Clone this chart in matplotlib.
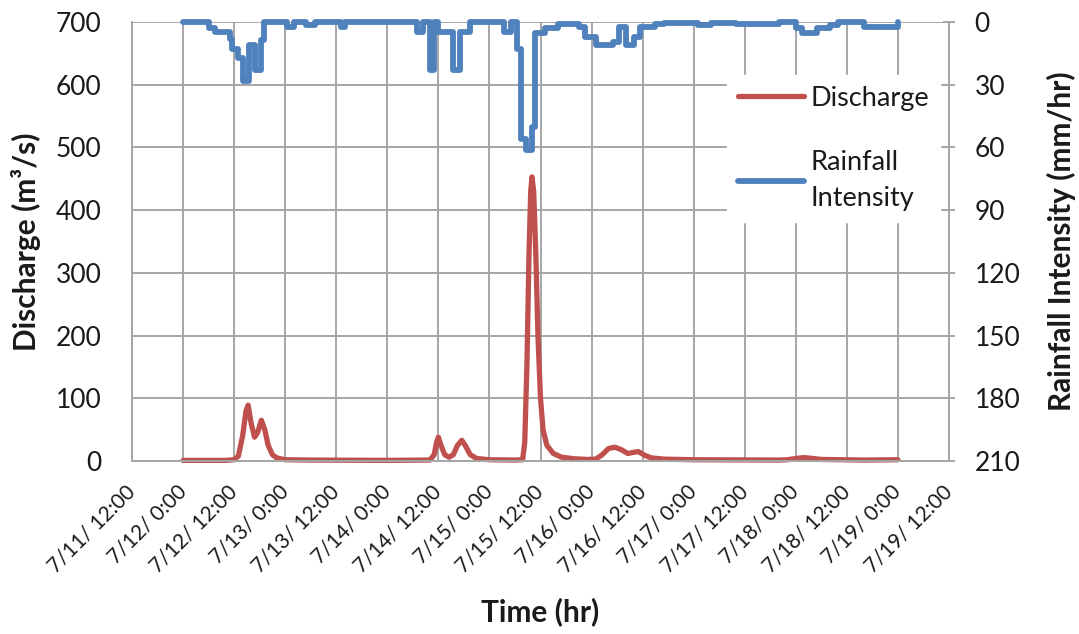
import matplotlib
matplotlib.use("Agg")
import matplotlib.pyplot as plt

plt.rcParams['font.family'] = ['Lato', 'DejaVu Sans']

# Hours since 7/12 0:00
tick_hours = [-12, 0, 12, 24, 36, 48, 60, 72, 84, 96, 108, 120, 132, 144, 156, 168, 180]
tick_labels = ["7/11/ 12:00", "7/12/ 0:00", "7/12/ 12:00", "7/13/ 0:00", "7/13/ 12:00",
               "7/14/ 0:00", "7/14/ 12:00", "7/15/ 0:00", "7/15/ 12:00", "7/16/ 0:00",
               "7/16/ 12:00", "7/17/ 0:00", "7/17/ 12:00", "7/18/ 0:00", "7/18/ 12:00",
               "7/19/ 0:00", "7/19/ 12:00"]

# Discharge (m3/s)
q_hours = [0, 10, 12, 13, 14, 14.8, 15.3, 16, 16.8, 17.5, 18.4, 19.2, 20, 21, 22, 24,
           30, 48, 58, 59, 59.6, 60, 60.6, 61.5, 62.5, 63.5, 64.5, 65.5, 66.3, 67.5, 69, 72,
           78, 79.8, 80.3, 80.8, 81.3, 81.7, 82, 82.4, 82.9, 83.4, 84, 84.6, 85.5, 87, 89,
           92, 95, 97, 98.5, 100, 101.5, 103, 104.5, 106, 107, 108.5, 110, 113, 120,
           140, 142, 144, 146, 148, 150, 160, 168]
discharge = [1, 1, 2, 8, 40, 80, 89, 60, 38, 45, 65, 50, 25, 10, 5, 2,
             1.5, 1, 1.5, 10, 30, 38, 25, 10, 6, 10, 25, 33, 25, 10, 4, 2,
             1.5, 2, 30, 150, 330, 430, 453, 430, 330, 200, 100, 50, 25, 12, 6,
             3.5, 2.5, 3, 10, 20, 22, 18, 12, 14, 15, 9, 5, 3, 2,
             1.5, 2, 4, 5.5, 4, 2.5, 1.5, 2]

# Rainfall intensity (mm/hr), value holds from each hour until the next
r_hours = [0, 6, 7.5, 11, 11.5, 13, 14, 15.5, 17, 18.3, 19, 24.5, 26, 29, 31, 37, 38,
           55, 56.5, 58, 59, 60, 63.5, 65, 67.5, 75.5, 77, 78.5, 79.5, 80.5, 82, 82.7,
           85, 88, 93, 94.5, 97, 101, 102.5, 104, 106, 107.5, 111, 113, 121, 124,
           130, 140, 144, 145.5, 149, 152, 154, 160, 166, 168]
rainfall = [0, 3, 5, 8, 13, 17, 28, 11, 23, 8.6, 0, 2.4, 0, 1.5, 0, 2.5, 0,
            5, 0, 23, 0, 5, 23, 5, 0, 5, 0, 13, 56, 61, 50, 5.5,
            3, 1, 2.5, 7, 11, 9.5, 2.5, 11, 7, 2.5, 1, 0.5, 1.5, 0.5,
            1, 0, 3, 5.5, 3, 1.5, 0, 2.5, 2.5, 0]

red = "#C0504D"
blue = "#4F81BD"
grid_c = "#A6A6A6"
text_c = "#1a1a1a"

W, H = 1079, 634
fig = plt.figure(figsize=(W / 100, H / 100), dpi=100)
ax = fig.add_axes([132 / W, 1 - 461 / H, (949 - 132) / W, (461 - 22) / H])
ax2 = ax.twinx()

ax.plot(q_hours, discharge, color=red, lw=3.8, solid_capstyle='round',
        solid_joinstyle='round', clip_on=False, zorder=3, label="Discharge")
ax2.plot(r_hours, rainfall, color=blue, lw=4.2, drawstyle='steps-post',
         solid_capstyle='round', solid_joinstyle='round', clip_on=False,
         label="Rainfall\nIntensity")

ax.set_xlim(-12, 180)
ax.set_ylim(0, 700)
ax.set_yticks(range(0, 701, 100))
ax.set_xticks(tick_hours)
ax.set_xticklabels(tick_labels, rotation=45, ha='right', va='center',
                   rotation_mode='anchor', fontsize=15, color=text_c)
ax2.set_ylim(210, 0)
ax2.set_yticks(range(0, 211, 30))

ax.grid(True, color=grid_c, lw=1.4)
ax.set_axisbelow(True)
for a in (ax, ax2):
    for s in a.spines.values():
        s.set_color(grid_c)
        s.set_linewidth(1.4)
ax.spines['top'].set_visible(False)
ax2.spines['top'].set_visible(False)
ax.tick_params(axis='y', labelsize=19, length=0, pad=22, labelcolor=text_c)
ax2.tick_params(axis='y', labelsize=19, direction='inout', length=9, width=1.4,
                color=grid_c, pad=14, labelcolor=text_c)
ax.tick_params(axis='x', length=0, pad=20)

ax.set_ylabel("Discharge (m³/s)", fontsize=21.5, fontweight='bold', color=text_c)
ax.yaxis.set_label_coords((41 - 132) / 817, 0.5)
ax2.set_ylabel("Rainfall Intensity (mm/hr)", fontsize=21.5, fontweight='bold',
               rotation=90, color=text_c)
ax2.yaxis.set_label_coords((1047 - 132) / 817, 0.5)
ax.set_xlabel("Time (hr)", fontsize=21.5, fontweight='bold', color=text_c)
ax.xaxis.set_label_coords(0.5, -0.31)

h1, l1 = ax.get_legend_handles_labels()
h2, l2 = ax2.get_legend_handles_labels()
leg = ax2.legend(h1 + h2, l1 + l2, loc='upper left',
                 bbox_to_anchor=((727 - 132) / 817, (461 - 75) / 439),
                 fontsize=19.5, frameon=True, fancybox=False, handlelength=2.45,
                 handletextpad=0.25, labelspacing=1.45, borderpad=0.4,
                 borderaxespad=0)
leg.get_frame().set_edgecolor('white')
leg.get_frame().set_facecolor('white')
leg.get_frame().set_alpha(1.0)
for t in leg.get_texts():
    t.set_color(text_c)
leg.get_texts()[1].set_linespacing(1.55)

fig.savefig("out.png", dpi=100)
